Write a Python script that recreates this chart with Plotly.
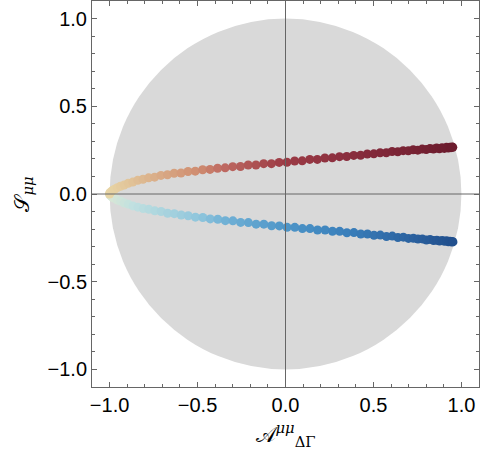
import plotly.graph_objects as go

# Data
x_up = [-1.000, -0.998, -0.992, -0.983, -0.971, -0.956, -0.938, -0.917, -0.894, -0.868,
        -0.840, -0.810, -0.778, -0.744, -0.708, -0.671, -0.633, -0.594, -0.554, -0.513,
        -0.471, -0.429, -0.386, -0.343, -0.300, -0.256, -0.212, -0.168, -0.124, -0.080,
        -0.036, 0.008, 0.052, 0.095, 0.138, 0.181, 0.224, 0.266, 0.307, 0.348,
        0.388, 0.427, 0.465, 0.502, 0.538, 0.573, 0.606, 0.638, 0.669, 0.698,
        0.726, 0.752, 0.777, 0.800, 0.821, 0.841, 0.859, 0.875, 0.890, 0.903,
        0.915, 0.925, 0.934, 0.941, 0.947, 0.951]
y_up = [0.000, 0.007, 0.012, 0.021, 0.027, 0.036, 0.044, 0.051, 0.061, 0.068,
        0.078, 0.084, 0.092, 0.096, 0.106, 0.110, 0.118, 0.120, 0.128, 0.130,
        0.138, 0.140, 0.147, 0.149, 0.156, 0.157, 0.165, 0.165, 0.173, 0.173,
        0.180, 0.181, 0.188, 0.189, 0.197, 0.197, 0.205, 0.206, 0.213, 0.214,
        0.220, 0.221, 0.228, 0.229, 0.235, 0.235, 0.242, 0.241, 0.247, 0.246,
        0.252, 0.250, 0.256, 0.253, 0.259, 0.256, 0.262, 0.258, 0.264, 0.260,
        0.266, 0.262, 0.267, 0.264, 0.268, 0.266]

x_dn = [-1.000, -0.997, -0.991, -0.982, -0.970, -0.955, -0.937, -0.916, -0.893, -0.867,
        -0.839, -0.809, -0.777, -0.743, -0.707, -0.670, -0.632, -0.593, -0.553, -0.512,
        -0.470, -0.428, -0.385, -0.342, -0.299, -0.255, -0.211, -0.167, -0.123, -0.079,
        -0.035, 0.009, 0.053, 0.096, 0.139, 0.182, 0.225, 0.267, 0.308, 0.349,
        0.389, 0.428, 0.466, 0.503, 0.539, 0.574, 0.607, 0.639, 0.670, 0.699,
        0.727, 0.753, 0.778, 0.801, 0.822, 0.842, 0.860, 0.876, 0.891, 0.904,
        0.916, 0.926, 0.935, 0.942, 0.948, 0.952]
y_dn = [0.000, -0.008, -0.012, -0.021, -0.025, -0.035, -0.041, -0.051, -0.058, -0.068,
        -0.075, -0.083, -0.087, -0.096, -0.100, -0.110, -0.112, -0.120, -0.124, -0.132,
        -0.134, -0.142, -0.144, -0.152, -0.153, -0.162, -0.163, -0.172, -0.172, -0.181,
        -0.182, -0.190, -0.190, -0.197, -0.197, -0.205, -0.205, -0.212, -0.213, -0.221,
        -0.220, -0.228, -0.228, -0.235, -0.234, -0.242, -0.240, -0.248, -0.246, -0.253,
        -0.252, -0.257, -0.256, -0.262, -0.259, -0.265, -0.263, -0.268, -0.265, -0.270,
        -0.267, -0.272, -0.269, -0.273, -0.271, -0.273]

tick_vals = [-1.0, -0.5, 0.0, 0.5, 1.0]

reds = [[0.0, "#e8d6a6"], [0.1, "#ddb890"], [0.26, "#cf8c70"], [0.33, "#be6a62"],
        [0.51, "#9c3b45"], [0.69, "#8a2e3e"], [1.0, "#6c1c2e"]]
blues = [[0.0, "#dce8d4"], [0.07, "#c0e0e0"], [0.26, "#90c6dc"], [0.33, "#72b2d6"],
         [0.51, "#4e96c8"], [0.69, "#3a7fbb"], [1.0, "#22508e"]]

fig = go.Figure()

fig.add_trace(go.Scatter(
    x=x_dn, y=y_dn, mode="markers", showlegend=False,
    marker=dict(size=9, color=x_dn, colorscale=blues, cmin=-1, cmax=0.95, line=dict(width=0)),
))
fig.add_trace(go.Scatter(
    x=x_up, y=y_up, mode="markers", showlegend=False,
    marker=dict(size=9, color=x_up, colorscale=reds, cmin=-1, cmax=0.95, line=dict(width=0)),
))

# grey unit disk and the axes through the origin
fig.add_shape(type="circle", x0=-1, y0=-1, x1=1, y1=1, xref="x", yref="y",
              fillcolor="#d9d9d9", line=dict(width=0), layer="below")
fig.add_shape(type="line", x0=0, x1=0, y0=-1.1, y1=1.1, xref="x", yref="y",
              line=dict(color="#666666", width=1), layer="above")
fig.add_shape(type="line", x0=-1.1, x1=1.1, y0=0, y1=0, xref="x", yref="y",
              line=dict(color="#666666", width=1), layer="above")

axis_style = dict(
    range=[-1.1, 1.1], tickvals=tick_vals, tickformat=".1f",
    ticks="inside", ticklen=5, tickcolor="#666666", tickwidth=1,
    minor=dict(dtick=0.1, tick0=0, ticks="inside", ticklen=3, tickcolor="#666666"),
    showline=True, linecolor="#666666", linewidth=1, mirror="ticks",
    showgrid=False, zeroline=False,
    tickfont=dict(size=20, color="black", family="Liberation Sans"),
)

fig.update_xaxes(**axis_style,
                 title=dict(text="𝒜<sup><i>μμ</i></sup><sub>ΔΓ</sub>", standoff=12,
                            font=dict(size=21, color="black", family="DejaVu Serif")))
fig.update_yaxes(**axis_style,
                 title=dict(text="𝒮<sub><i>μμ</i></sub>", standoff=12,
                            font=dict(size=21, color="black", family="DejaVu Serif")))

fig.update_layout(
    width=480, height=462,
    margin=dict(l=92, r=1, t=1, b=75, autoexpand=False),
    plot_bgcolor="white", paper_bgcolor="white",
)

fig.write_html("out.html", config={"displayModeBar": False},
               post_script="document.body.style.margin = '0';")
